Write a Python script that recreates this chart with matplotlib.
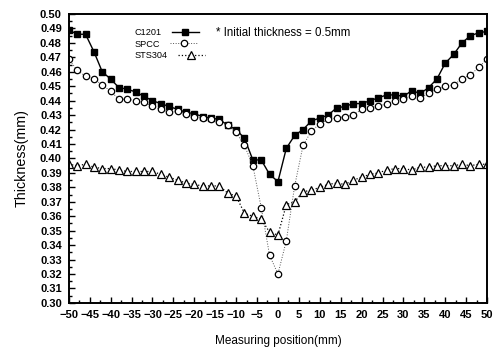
import matplotlib

matplotlib.use("Agg")
import matplotlib.pyplot as plt
from matplotlib.ticker import MultipleLocator

plt.rcParams["font.family"] = ["Liberation Sans", "DejaVu Sans"]

# measuring positions along the strip [mm]
position = [-50, -48, -46, -44, -42, -40, -38, -36, -34, -32, -30, -28, -26,
            -24, -22, -20, -18, -16, -14, -12, -10, -8, -6, -4, -2, 0,
            2, 4, 6, 8, 10, 12, 14, 16, 18, 20, 22, 24, 26, 28, 30, 32, 34,
            36, 38, 40, 42, 44, 46, 48, 50]

# thickness after forming [mm]
c1201 = [0.489, 0.486, 0.486, 0.474, 0.460, 0.455, 0.449, 0.448, 0.446, 0.443,
         0.440, 0.438, 0.436, 0.434, 0.432, 0.431, 0.429, 0.428, 0.427, 0.423,
         0.420, 0.414, 0.399, 0.399, 0.389, 0.384,
         0.407, 0.416, 0.420, 0.426, 0.428, 0.430, 0.435, 0.436, 0.438, 0.438,
         0.440, 0.442, 0.444, 0.444, 0.443, 0.447, 0.445, 0.449, 0.455, 0.466,
         0.472, 0.480, 0.485, 0.487, 0.488]

spcc = [0.469, 0.461, 0.457, 0.455, 0.451, 0.4465, 0.441, 0.441, 0.440, 0.439,
        0.436, 0.434, 0.432, 0.433, 0.431, 0.429, 0.428, 0.427, 0.425, 0.423,
        0.418, 0.409, 0.395, 0.366, 0.333, 0.320,
        0.343, 0.381, 0.409, 0.419, 0.424, 0.427, 0.428, 0.429, 0.430, 0.434,
        0.435, 0.436, 0.438, 0.440, 0.441, 0.443, 0.442, 0.445, 0.448, 0.450,
        0.451, 0.455, 0.458, 0.463, 0.469]

sts304 = [0.396, 0.395, 0.396, 0.394, 0.393, 0.393, 0.392, 0.391, 0.391, 0.391,
          0.391, 0.389, 0.387, 0.385, 0.383, 0.382, 0.381, 0.381, 0.381, 0.376,
          0.374, 0.362, 0.360, 0.358, 0.349, 0.347,
          0.368, 0.370, 0.377, 0.378, 0.380, 0.382, 0.383, 0.382, 0.385, 0.387,
          0.389, 0.390, 0.392, 0.393, 0.393, 0.392, 0.394, 0.394, 0.395, 0.395,
          0.395, 0.396, 0.395, 0.396, 0.396]

fig = plt.figure(figsize=(4.95, 3.51), dpi=100)
ax = fig.add_axes([0.139, 0.137, 0.845, 0.823])

ax.plot(position, c1201, "-", color="black", lw=1.0, marker="s", ms=4.4,
        mfc="black", mec="black", label="C1201")
ax.plot(position, spcc, ":", color="#555555", lw=0.7, marker="o", ms=4.6,
        mfc="white", mec="black", mew=0.9, label="SPCC")
ax.plot(position, sts304, ":", color="black", lw=0.9, marker="^", ms=5.2,
        mfc="white", mec="black", mew=0.9, label="STS304")

ax.set_xlim(-50, 50)
ax.set_ylim(0.30, 0.50)
ax.xaxis.set_major_locator(MultipleLocator(5))
ax.xaxis.set_minor_locator(MultipleLocator(2.5))
ax.yaxis.set_major_locator(MultipleLocator(0.01))
ax.yaxis.set_minor_locator(MultipleLocator(0.005))
ax.yaxis.set_major_formatter(plt.FormatStrFormatter("%.2f"))

ax.tick_params(which="both", direction="in", width=1.0)
ax.tick_params(which="major", length=4, labelsize=8)
ax.tick_params(axis="x", which="major", pad=5)
ax.tick_params(axis="y", which="major", pad=5)
ax.tick_params(which="minor", length=2)
for lbl in ax.get_xticklabels() + ax.get_yticklabels():
    lbl.set_fontweight("bold")
for sp in ax.spines.values():
    sp.set_linewidth(1.4)

ax.set_xlabel("Measuring position(mm)", fontsize=8.5, labelpad=11)
ax.set_ylabel("Thickness(mm)", fontsize=10.3, labelpad=8)

leg = ax.legend(loc="upper left", bbox_to_anchor=(0.158, 0.952), frameon=False,
                markerfirst=False, fontsize=6.6, handlelength=2.9,
                handletextpad=1.1, labelspacing=0.3, borderpad=0,
                borderaxespad=0)
# keep the labels flush left even with the handles on the right
for col in leg._legend_handle_box.get_children():
    col.align = "left"

ax.text(0.353, 0.934, "* Initial thickness = 0.5mm", transform=ax.transAxes,
        fontsize=8.3, va="center", ha="left")

fig.savefig("out.png", dpi=100)
